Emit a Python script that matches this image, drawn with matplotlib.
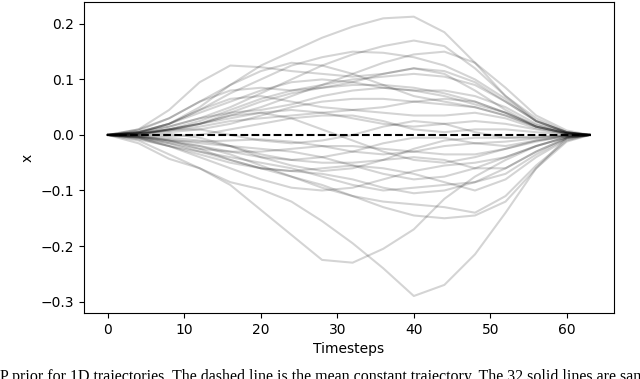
import numpy as np
import matplotlib
matplotlib.use("Agg")
import matplotlib.pyplot as plt

timesteps = [0, 4, 8, 12, 16, 20, 24, 28, 32, 36, 40, 44, 48, 52, 56, 60, 63]

samples = [
    [0, .005, .02, .05, .09, .125, .15, .175, .195, .21, .213, .185, .13, .07, .025, .005, 0],
    [0, .005, .015, .03, .05, .075, .10, .125, .145, .16, .17, .16, .12, .07, .03, .005, 0],
    [0, .01, .045, .095, .125, .122, .115, .11, .105, .11, .12, .11, .08, .045, .015, .003, 0],
    [0, .005, .02, .045, .075, .10, .125, .14, .15, .148, .14, .125, .10, .065, .025, .005, 0],
    [0, 0, .01, .02, .035, .05, .07, .09, .11, .13, .145, .15, .13, .085, .035, .008, 0],
    [0, .01, .03, .06, .09, .115, .13, .125, .11, .09, .07, .06, .05, .035, .015, .003, 0],
    [0, .003, .01, .025, .045, .065, .08, .09, .10, .105, .11, .105, .09, .06, .025, .005, 0],
    [0, .008, .03, .06, .08, .085, .08, .085, .095, .11, .12, .115, .095, .06, .025, .005, 0],
    [0, .005, .02, .04, .06, .08, .095, .10, .095, .085, .08, .08, .07, .05, .02, .004, 0],
    [0, .002, .01, .02, .04, .06, .075, .085, .09, .09, .085, .075, .06, .04, .015, .003, 0],
    [0, .005, .015, .03, .04, .045, .055, .07, .08, .085, .08, .07, .055, .04, .018, .004, 0],
    [0, .003, .005, .01, .02, .035, .05, .06, .065, .065, .06, .055, .05, .035, .015, .003, 0],
    [0, .004, .02, .045, .065, .07, .06, .05, .045, .05, .06, .065, .06, .04, .015, .003, 0],
    [0, .002, .008, .015, .025, .03, .035, .04, .045, .04, .035, .035, .04, .03, .012, .002, 0],
    [0, .002, .01, .02, .03, .04, .045, .04, .03, .02, .015, .02, .025, .02, .01, .002, 0],
    [0, 0, -.002, .0, .01, .02, .03, .035, .035, .025, .01, .005, .01, .01, .005, .001, 0],
    [0, -.01, -.035, -.06, -.085, -.098, -.12, -.155, -.195, -.24, -.29, -.27, -.215, -.14, -.06, -.005, 0],
    [0, -.015, -.043, -.06, -.09, -.135, -.18, -.225, -.23, -.205, -.17, -.115, -.075, -.045, -.02, -.004, 0],
    [0, -.005, -.015, -.03, -.045, -.06, -.075, -.09, -.11, -.13, -.145, -.15, -.145, -.12, -.06, -.012, 0],
    [0, -.003, -.01, -.02, -.035, -.055, -.075, -.095, -.11, -.12, -.125, -.13, -.14, -.11, -.055, -.01, 0],
    [0, -.008, -.02, -.03, -.04, -.05, -.06, -.075, -.09, -.1, -.095, -.09, -.085, -.07, -.035, -.006, 0],
    [0, -.005, -.02, -.035, -.05, -.06, -.065, -.06, -.055, -.06, -.07, -.085, -.1, -.08, -.04, -.008, 0],
    [0, -.004, -.012, -.02, -.03, -.04, -.045, -.05, -.05, -.045, -.04, -.045, -.06, -.06, -.03, -.006, 0],
    [0, -.002, -.008, -.015, -.02, -.025, -.03, -.04, -.055, -.07, -.08, -.075, -.06, -.04, -.02, -.004, 0],
    [0, -.004, -.015, -.025, -.03, -.03, -.025, -.02, -.02, -.025, -.03, -.035, -.035, -.025, -.012, -.002, 0],
    [0, -.003, -.01, -.012, -.01, -.008, -.012, -.02, -.03, -.035, -.03, -.02, -.015, -.012, -.006, -.001, 0],
    [0, -.002, -.005, -.01, -.02, -.035, -.045, -.04, -.03, -.015, -.005, -.005, -.015, -.02, -.01, -.002, 0],
    [0, 0, .002, -.005, -.02, -.04, -.055, -.065, -.06, -.045, -.025, -.01, -.005, -.005, -.003, -.001, 0],
    [0, -.006, -.02, -.04, -.06, -.08, -.095, -.1, -.095, -.08, -.065, -.055, -.05, -.04, -.02, -.004, 0],
    [0, -.002, -.01, -.025, -.045, -.06, -.065, -.07, -.08, -.095, -.105, -.1, -.085, -.06, -.03, -.005, 0],
    [0, .003, .01, .01, .0, -.01, -.015, -.01, .0, .015, .025, .02, .005, -.005, -.005, -.001, 0],
    [0, .002, .008, .02, .035, .04, .03, .01, -.01, -.03, -.045, -.05, -.04, -.025, -.01, -.002, 0],
]

mean_t = [0, 63]
mean_x = [0.0, 0.0]

caption = ("P prior for 1D trajectories. The dashed line is the mean constant trajectory. "
           "The 32 solid lines are sampled")

fig = plt.figure(figsize=(6.4, 3.79), dpi=100)
ax = fig.add_axes([0.131, 0.174, 0.828, 0.821])

for s in samples:
    ax.plot(timesteps, s, color='k', alpha=0.17, lw=1.5)
ax.plot(mean_t, mean_x, color='k', ls='--', lw=1.5)

ax.set_xticks([0, 10, 20, 30, 40, 50, 60])
ax.set_yticks([-0.3, -0.2, -0.1, 0.0, 0.1, 0.2])
ax.set_xlabel("Timesteps")
ax.set_ylabel("x")
ax.set_ylim(-0.3207, 0.2396)

fig.text(0.0, -0.006, caption, family="Liberation Serif", fontsize=11.5,
         ha='left', va='baseline')

fig.savefig("out.png", dpi=100)
